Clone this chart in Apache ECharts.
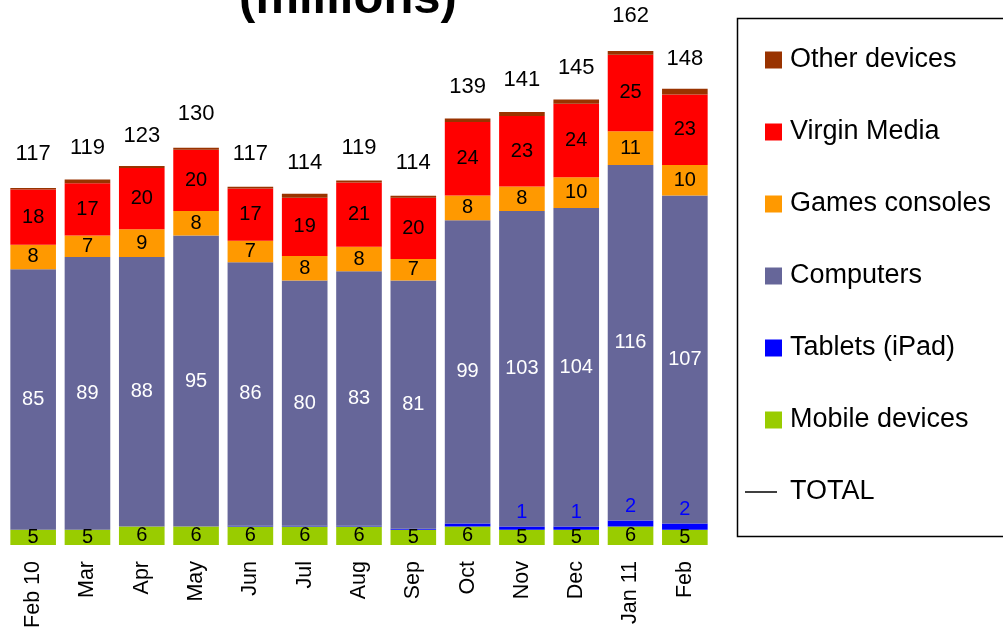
<!DOCTYPE html>
<html>
<head>
<meta charset="utf-8">
<script src="https://cdn.jsdelivr.net/npm/echarts@6/dist/echarts.min.js"></script>
<style>
  html, body { margin: 0; padding: 0; background: #fff; }
  #chart { width: 1003px; height: 632px; }
</style>
</head>
<body>
<div id="chart"></div>
<script>
// Monthly connected devices, millions
const months = ['Feb 10', 'Mar', 'Apr', 'May', 'Jun', 'Jul', 'Aug', 'Sep', 'Oct', 'Nov', 'Dec', 'Jan 11', 'Feb'];
const mobileDevices = [5, 5, 6, 6, 6, 6, 6, 5, 6, 5, 5, 6, 5];
const tablets = [0, 0, 0, 0, 0.3, 0.3, 0.3, 0.3, 1, 1, 1, 2, 2];
const computers = [85, 89, 88, 95, 86, 80, 83, 81, 99, 103, 104, 116, 107];
const gamesConsoles = [8, 7, 9, 8, 7, 8, 8, 7, 8, 8, 10, 11, 10];
const virginMedia = [18, 17, 20, 20, 17, 19, 21, 20, 24, 23, 24, 25, 23];
const otherDevices = [0.45, 1.3, 0.7, 0.6, 0.6, 1.3, 0.65, 0.65, 1.2, 1.3, 1.4, 1.2, 1.9];
const totals = [117, 119, 123, 130, 117, 114, 119, 114, 139, 141, 145, 162, 148];
// tablet values are only printed from Nov onwards
const tabletLabelFrom = 9;

const FONT = 'Liberation Sans, Arial, sans-serif';

const tabletData = tablets.map((v, i) => ({
  value: v,
  label: { show: i >= tabletLabelFrom }
}));

function barSeries(name, data, color, labelColor, extraLabel) {
  return {
    name: name,
    type: 'bar',
    stack: 'devices',
    data: data,
    barCategoryGap: '16%',
    itemStyle: { color: color },
    label: Object.assign({
      show: true,
      position: 'inside',
      color: labelColor,
      fontFamily: FONT,
      fontSize: 20
    }, extraLabel || {}),
    emphasis: { disabled: true }
  };
}

const chart = echarts.init(document.getElementById('chart'));
chart.setOption({
  backgroundColor: '#fff',
  animation: false,
  grid: { left: 6, right: 291, top: 24, bottom: 87, containLabel: false },
  xAxis: {
    type: 'category',
    data: months,
    axisLine: { show: false },
    axisTick: { show: false },
    axisLabel: {
      rotate: 90,
      margin: 16,
      color: '#000',
      fontFamily: FONT,
      fontSize: 21.5,
      interval: 0
    }
  },
  yAxis: {
    type: 'value',
    min: 0,
    max: 170,
    show: false,
    splitLine: { show: false }
  },
  legend: [
    {
      orient: 'vertical',
      left: 765,
      top: 45,
      padding: 0,
      itemWidth: 17,
      itemHeight: 17,
      itemGap: 42,
      icon: 'rect',
      selectedMode: false,
      textStyle: {
        color: '#000',
        fontFamily: FONT,
        fontSize: 27,
        lineHeight: 30,
        padding: [0, 0, 0, 3]
      },
      data: ['Other devices', 'Virgin Media', 'Games consoles', 'Computers', 'Tablets (iPad)', 'Mobile devices']
    },
    {
      orient: 'vertical',
      left: 745,
      top: 477,
      padding: 0,
      itemWidth: 32,
      itemHeight: 1.5,
      selectedMode: false,
      textStyle: {
        color: '#000',
        fontFamily: FONT,
        fontSize: 27,
        lineHeight: 30,
        padding: [0, 0, 0, 8]
      },
      data: [{ name: 'TOTAL', icon: 'rect', itemStyle: { color: '#000' } }]
    }
  ],
  graphic: [
    {
      type: 'text',
      x: 348,
      y: 24,
      style: {
        text: '(millions)',
        font: 'bold 49px ' + FONT,
        fill: '#000',
        align: 'center',
        verticalAlign: 'bottom'
      }
    },
    {
      type: 'rect',
      shape: { x: 737.5, y: 18.5, width: 290, height: 518 },
      style: { fill: 'none', stroke: '#000', lineWidth: 1.5 }
    }
  ],
  series: [
    barSeries('Mobile devices', mobileDevices, '#99CC00', '#000'),
    barSeries('Tablets (iPad)', tabletData, '#0000FF', '#0000FF', { position: 'top', distance: 4 }),
    barSeries('Computers', computers, '#666699', '#fff'),
    barSeries('Games consoles', gamesConsoles, '#FF9900', '#000'),
    barSeries('Virgin Media', virginMedia, '#FF0000', '#000'),
    barSeries('Other devices', otherDevices, '#993300', '#000', { show: false }),
    {
      // totals: invisible line carrying the value labels above each stack
      name: 'TOTAL',
      type: 'line',
      data: totals,
      symbol: 'circle',
      symbolSize: 1,
      showSymbol: true,
      lineStyle: { width: 0, color: '#000' },
      itemStyle: { color: 'rgba(0,0,0,0)' },
      label: {
        show: true,
        position: 'top',
        distance: 21,
        color: '#000',
        fontFamily: FONT,
        fontSize: 22
      },
      emphasis: { disabled: true },
      z: 5
    }
  ]
});
</script>
</body>
</html>
